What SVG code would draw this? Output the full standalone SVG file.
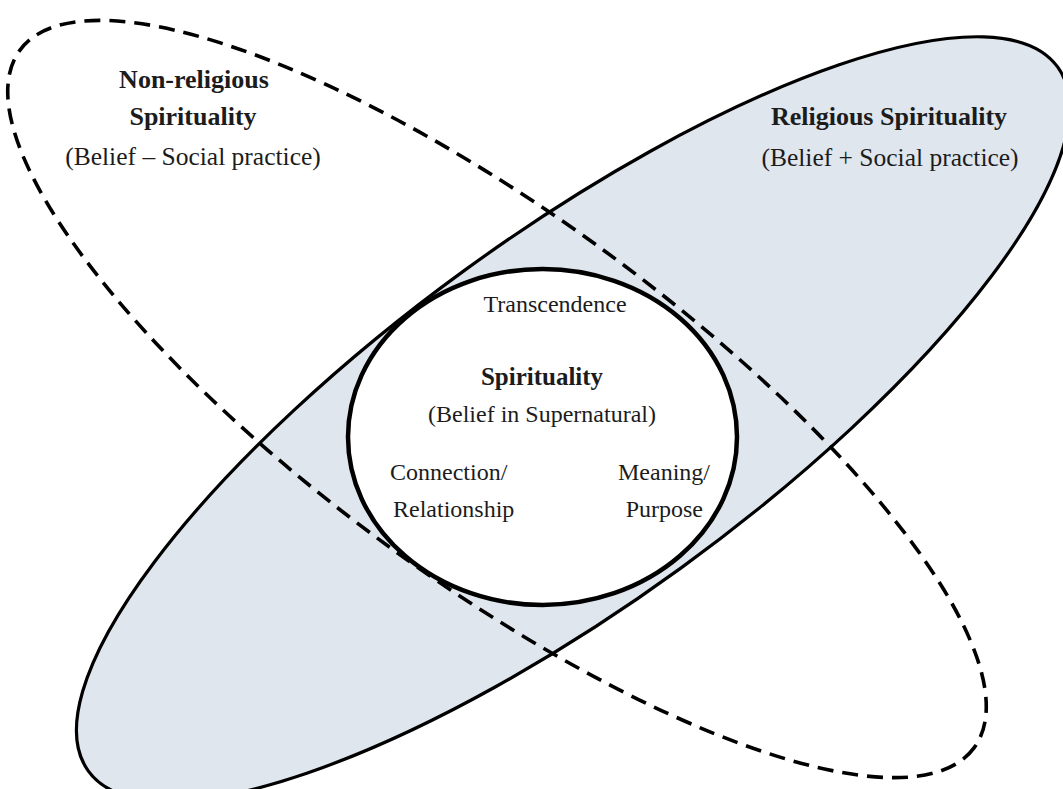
<svg xmlns="http://www.w3.org/2000/svg" width="1063" height="789" viewBox="0 0 1063 789">
  <style>
    .bg { fill: #ffffff; }
    .solid { fill: #dfe6ee; stroke: #000; stroke-width: 3.2; }
    .dashed { fill: none; stroke: #000; stroke-width: 3.6; stroke-dasharray: 16 9; }
    .core { fill: #ffffff; stroke: #000; stroke-width: 4.5; }
    text { font-family: "Liberation Serif", "Times New Roman", serif; fill: #1c1c1c; }
    .ob { font-size: 26px; font-weight: bold; text-anchor: middle; }
    .or { font-size: 25.5px; text-anchor: middle; }
    .ib { font-size: 25px; font-weight: bold; text-anchor: middle; }
    .ir { font-size: 24px; }
  </style>
  <rect class="bg" x="0" y="0" width="1063" height="789"/>
  <g id="religious">
    <ellipse class="solid" cx="573" cy="419" rx="599" ry="184" transform="rotate(-36 573 419)"/>
    <text class="ob" x="889" y="125">Religious Spirituality</text>
    <text class="or" x="890" y="166">(Belief + Social practice)</text>
  </g>
  <g id="non-religious">
    <ellipse class="dashed" cx="497" cy="399" rx="591" ry="183" transform="rotate(36.15 497 399)"/>
    <text class="ob" x="194" y="88">Non-religious</text>
    <text class="ob" x="193" y="125">Spirituality</text>
    <text class="or" x="193" y="165">(Belief – Social practice)</text>
  </g>
  <g id="spirituality">
    <ellipse class="core" cx="542.5" cy="437" rx="194.5" ry="168"/>
    <text class="ir" x="555" y="312" text-anchor="middle">Transcendence</text>
    <text class="ib" x="542" y="385">Spirituality</text>
    <text class="ir" x="542" y="422" text-anchor="middle">(Belief in Supernatural)</text>
    <text class="ir" x="390" y="480">Connection/</text>
    <text class="ir" x="393" y="517">Relationship</text>
    <text class="ir" x="710" y="480" text-anchor="end">Meaning/</text>
    <text class="ir" x="703" y="517" text-anchor="end">Purpose</text>
  </g>
  <g id="connectors"/>
</svg>
